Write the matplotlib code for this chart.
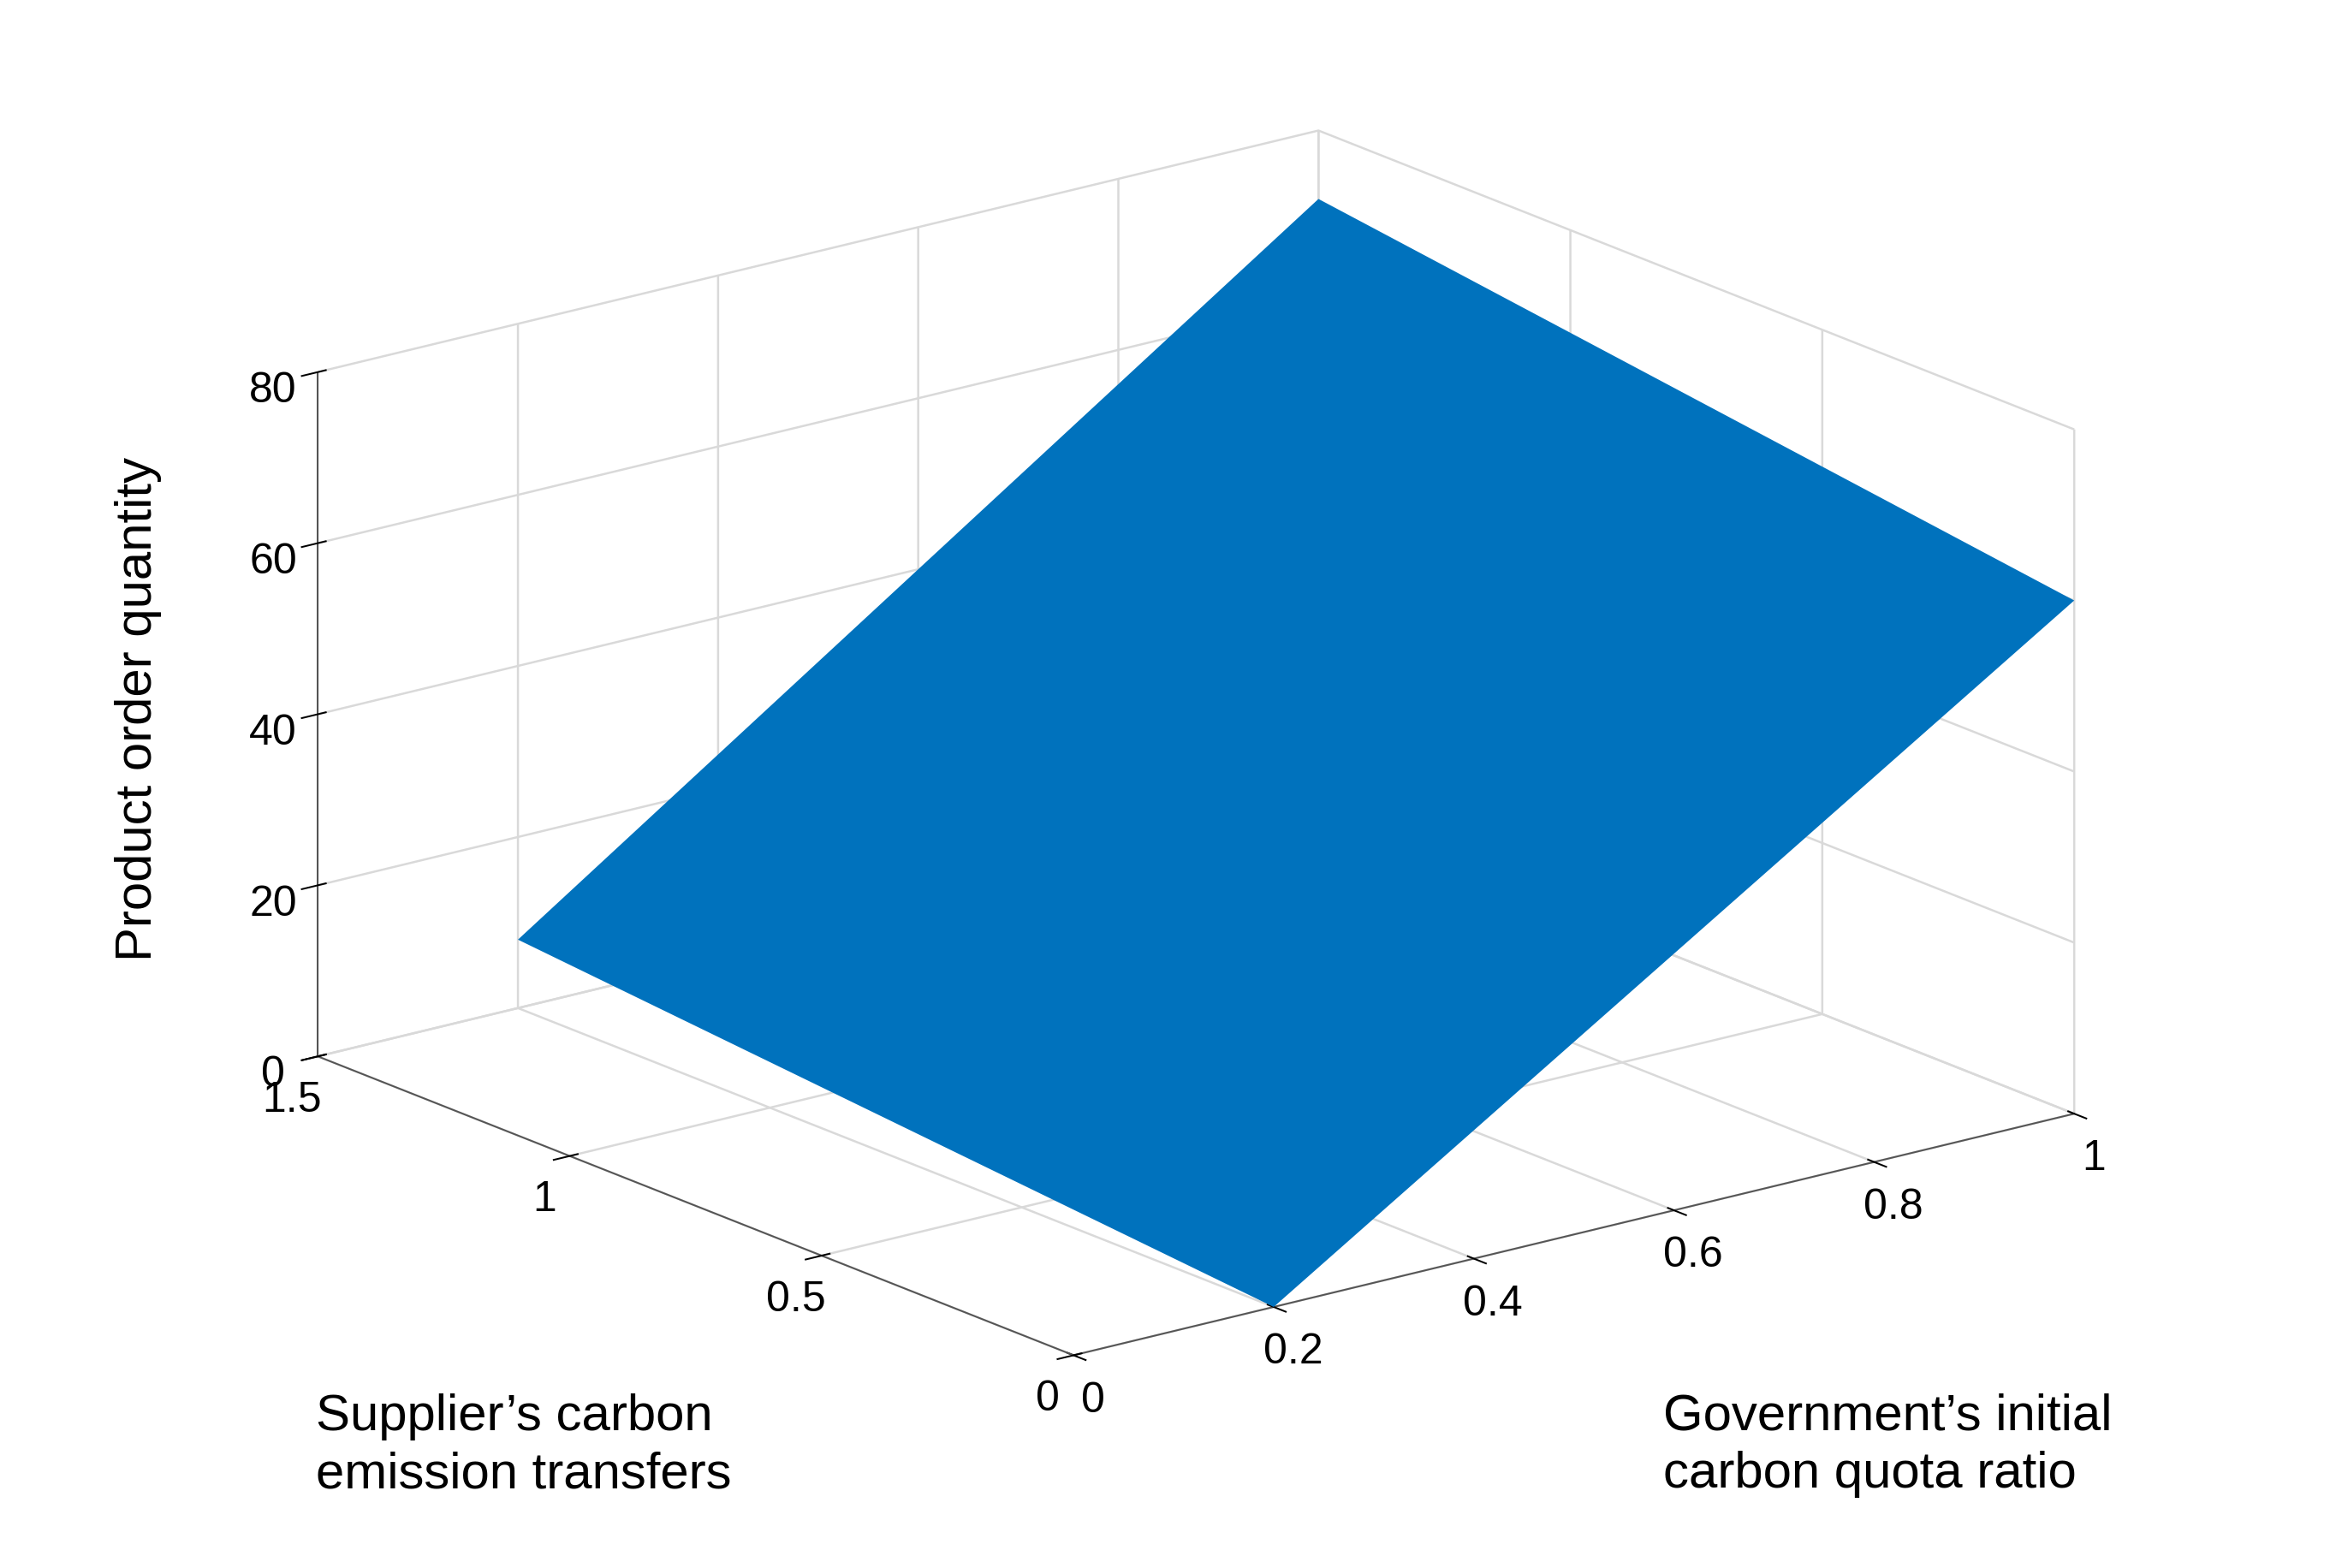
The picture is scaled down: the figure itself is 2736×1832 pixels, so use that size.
import numpy as np
import matplotlib.pyplot as plt

x_vals = [0.2, 1.0]          # Government's initial carbon quota ratio
y_vals = [0.0, 1.5]          # Supplier's carbon emission transfers
z_grid = [[0.0, 60.0],       # rows: y, cols: x
          [8.0, 72.0]]
x_ticks = [0, 0.2, 0.4, 0.6, 0.8, 1]
y_ticks = [0, 0.5, 1, 1.5]
z_ticks = [0, 20, 40, 60, 80]

plt.rcParams['font.family'] = ['Liberation Sans', 'DejaVu Sans']
fig = plt.figure(figsize=(15.2, 10.183), dpi=180)
ax = fig.add_axes([-0.06, -0.08, 1.12, 1.18], projection='3d', proj_type='ortho')
X, Y = np.meshgrid(x_vals, y_vals)
ax.plot_surface(X, Y, np.array(z_grid), color='#0072BD', shade=False,
                edgecolor='none', antialiased=True)
ax.set_xlim(0, 1); ax.set_ylim(0, 1.5); ax.set_zlim(0, 80)
ax.set_xticks(x_ticks); ax.set_yticks(y_ticks); ax.set_zticks(z_ticks)
ax.set_xticklabels([str(t) for t in x_ticks])
ax.set_yticklabels([str(t) for t in y_ticks])
ax.view_init(elev=18, azim=-128)
for a in (ax.xaxis, ax.yaxis, ax.zaxis):
    a.set_pane_color((1, 1, 1, 1))
    a._axinfo['grid']['color'] = (0.85, 0.85, 0.85, 1)
    a._axinfo['grid']['linewidth'] = 1.0
    a.line.set_color('#555555')
ax.tick_params(labelsize=20)
ax.set_zlabel("Product order quantity", fontsize=24, labelpad=25)
ax.set_box_aspect((1.5, 1.45, 0.85))
fig.text(0.135, 0.045, "Supplier’s carbon\nemission transfers", fontsize=24,
         ha='left', va='bottom', linespacing=1.3)
fig.text(0.71, 0.045, "Government’s initial\ncarbon quota ratio", fontsize=24,
         ha='left', va='bottom', linespacing=1.3)
fig.savefig('out.png', dpi=180, facecolor='white')
